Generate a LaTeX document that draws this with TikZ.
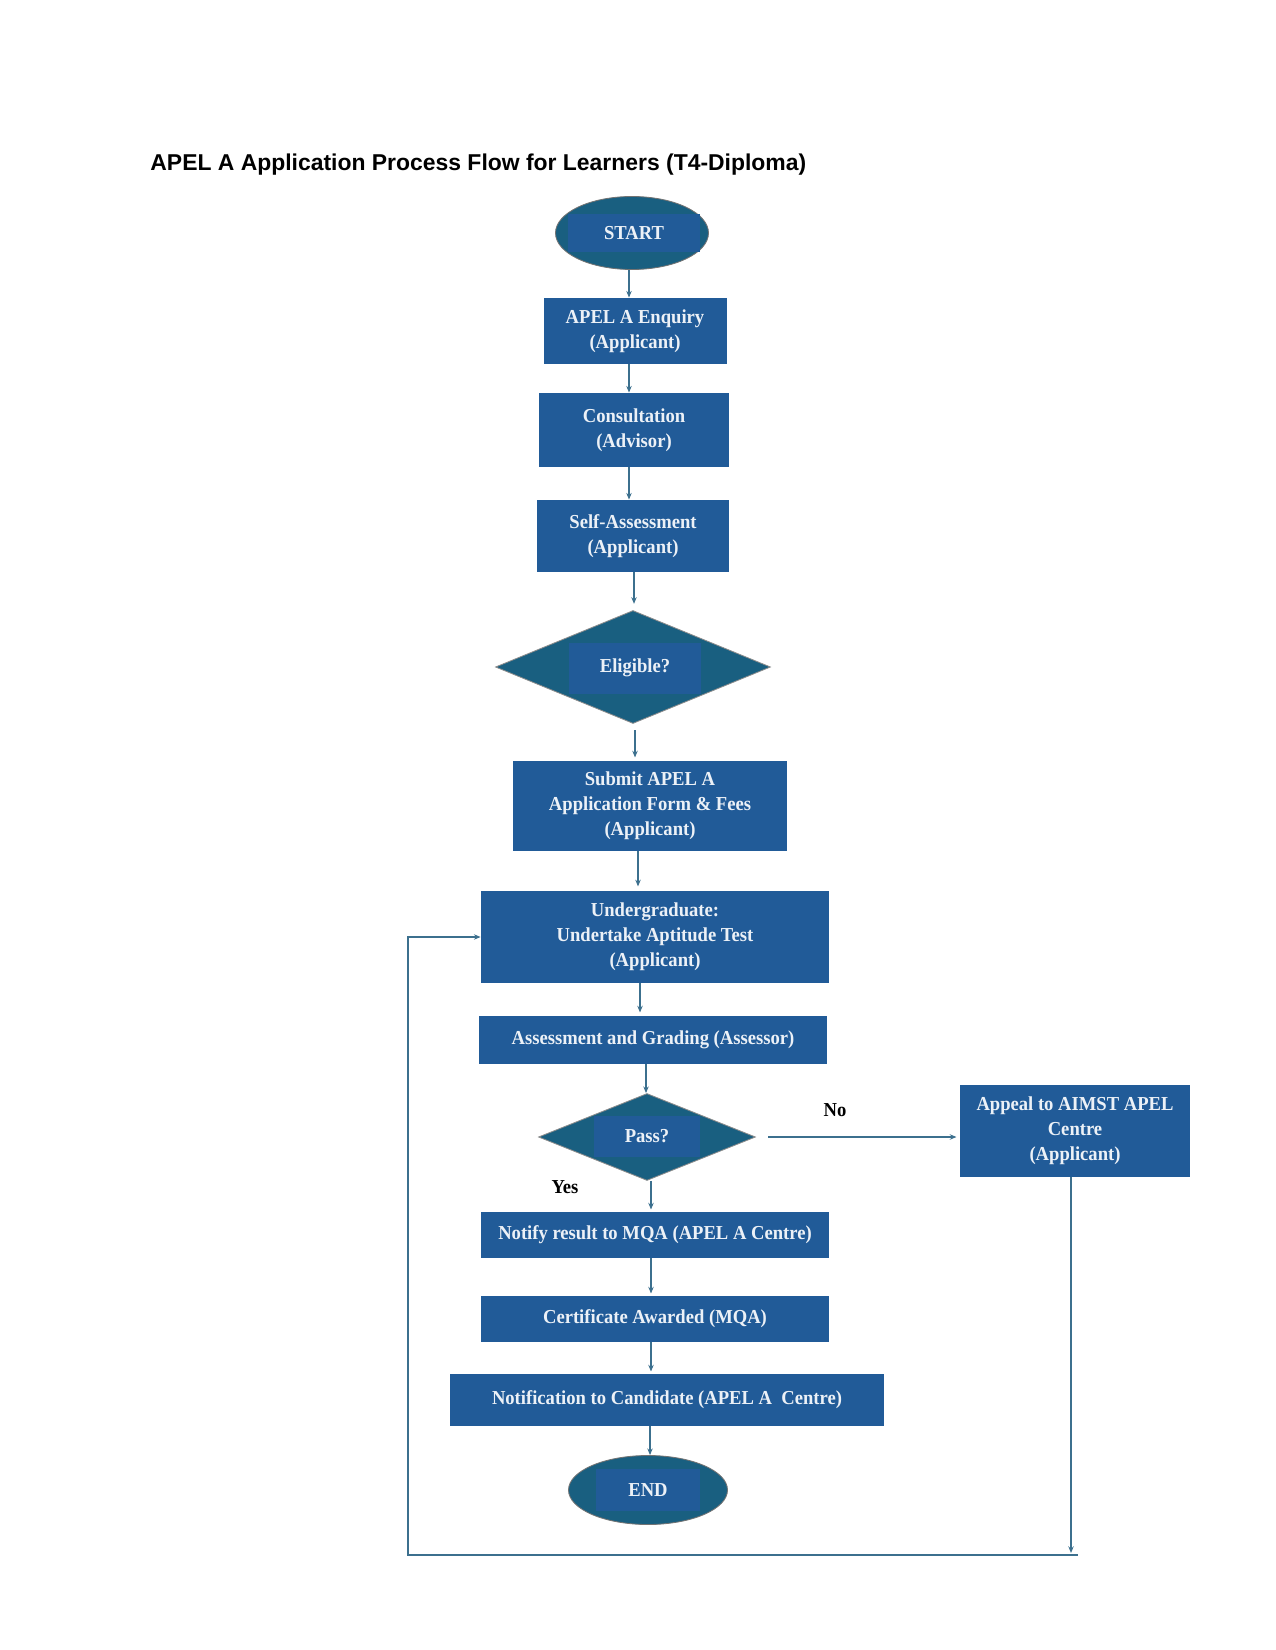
\documentclass[tikz,border=0pt]{standalone}
\usepackage{fontspec}
\setmainfont{Liberation Serif}
\setsansfont{Liberation Sans}
\newfontfamily\boxfont[FakeStretch=0.94]{Liberation Serif}
\usetikzlibrary{shapes.geometric,arrows.meta}
\definecolor{boxblue}{RGB}{33,91,152}
\definecolor{darkteal}{RGB}{25,95,128}
\definecolor{linkcol}{RGB}{60,112,142}
\definecolor{txtwhite}{RGB}{236,241,247}
\tikzset{
  wh/.style 2 args={minimum width=#1*0.48pt,minimum height=#2*0.48pt},
  stepbox/.style={rectangle,fill=boxblue,text=txtwhite,align=center,inner sep=0pt,
    font=\boxfont\bfseries\fontsize{9.5}{12}\selectfont},
  termin/.style={ellipse,fill=darkteal,draw=black!55,inner sep=0pt},
  decide/.style={diamond,fill=darkteal,draw=black!45,inner sep=0pt},
  arr/.style={draw=linkcol,line width=0.6pt,-{Stealth[length=3.2pt,width=2.6pt]}},
  lbl/.style={font=\boxfont\bfseries\fontsize{9.5}{12}\selectfont},
}
\begin{document}
\begin{tikzpicture}[x=0.48pt,y=-0.48pt]
\useasboundingbox (0,0) rectangle (1275,1650);
%title
\node[anchor=base west,inner sep=0pt,font=\sffamily\bfseries\fontsize{11}{13}\selectfont] (title) at (150,171)
  {APEL A Application Process Flow for Learners (T4-Diploma)};
%start
\node[termin,wh={153}{73}] (start) at (632,233) {};
\node[stepbox,wh={132}{38}] (starttxt) at (634,233) {START};
%steps
\node[stepbox,wh={183}{66}] (enq) at (635,331) {APEL A Enquiry\\(Applicant)};
\node[stepbox,wh={190}{74}] (cons) at (634,430) {Consultation\\(Advisor)};
\node[stepbox,wh={192}{72}] (self) at (633,536) {Self-Assessment\\(Applicant)};
%eligible
\node[decide,wh={275}{113}] (elig) at (633,667) {};
\node[stepbox,wh={132}{51}] (eligtxt) at (635,668) {Eligible?};
\node[stepbox,wh={274}{90}] (sub) at (650,806) {Submit APEL A\\Application Form \& Fees\\(Applicant)};
\node[stepbox,wh={348}{92}] (und) at (655,937) {Undergraduate:\\Undertake Aptitude Test\\(Applicant)};
\node[stepbox,wh={348}{48}] (asg) at (653,1040) {Assessment and Grading (Assessor)};
%pass
\node[decide,wh={217}{87}] (pass) at (647,1137) {};
\node[stepbox,wh={106}{41}] (passtxt) at (647,1136) {Pass?};
\node[stepbox,wh={230}{92}] (appeal) at (1075,1131) {Appeal to AIMST APEL\\Centre\\(Applicant)};
\node[stepbox,wh={348}{46}] (notify) at (655,1235) {Notify result to MQA (APEL A Centre)};
\node[stepbox,wh={348}{46}] (cert) at (655,1319) {Certificate Awarded (MQA)};
\node[stepbox,wh={434}{52}] (notif) at (667,1400) {Notification to Candidate (APEL A~~Centre)};
%end
\node[termin,wh={159}{69}] (end) at (648,1490) {};
\node[stepbox,wh={104}{42}] (endtxt) at (648,1490) {END};
%arrows
\draw[arr] (start.south -| 629,0) -- (enq.north -| 629,0);
\draw[arr] (enq.south -| 629,0) -- (cons.north -| 629,0);
\draw[arr] (cons.south -| 629,0) -- (self.north -| 629,0);
\draw[arr,shorten >=3pt] (self.south -| 634,0) -- (elig.north -| 634,0);
\draw[arr,shorten <=3pt,shorten >=1.5pt] (elig.south -| 635,0) -- (sub.north -| 635,0);
\draw[arr,shorten >=2pt] (sub.south -| 638,0) -- (und.north -| 638,0);
\draw[arr,shorten >=1.5pt] (und.south -| 640,0) -- (asg.north -| 640,0);
\draw[arr] (asg.south -| 646,0) -- (pass.north -| 646,0);
\draw[arr,shorten >=1pt] (pass.south -| 651,0) -- (notify.north -| 651,0);
\draw[arr,shorten >=1pt] (notify.south -| 651,0) -- (cert.north -| 651,0);
\draw[arr,shorten >=1pt] (cert.south -| 651,0) -- (notif.north -| 651,0);
\draw[arr] (notif.south -| 650,0) -- (end.north -| 650,0);
%no branch
\draw[arr,shorten <=6pt,shorten >=1.5pt] (pass.east) -- (appeal.west |- pass.east);
\node[lbl] (nolbl) at (835,1110) {No};
\node[lbl] (yeslbl) at (565,1187) {Yes};
%loop back
\coordinate (rb) at (1071,1553);
\coordinate (lb) at (408,1555);
\draw[arr] (appeal.south -| rb) -- (rb);
\draw[arr] (1078,1555) -- (lb) |- (und.west);
\end{tikzpicture}
\end{document}
